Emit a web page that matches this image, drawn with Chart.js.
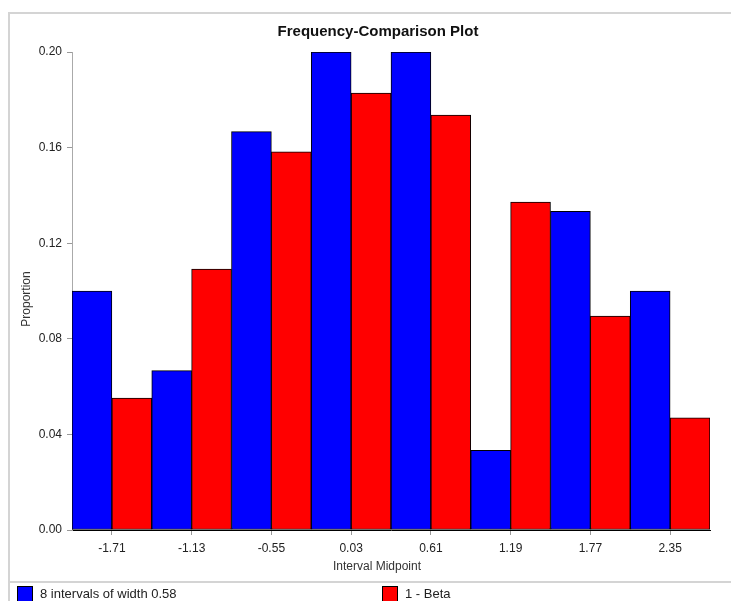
<!DOCTYPE html>
<html>
<head>
<meta charset="utf-8">
<title>Frequency-Comparison Plot</title>
<script src="https://cdn.jsdelivr.net/npm/chart.js@4"></script>
<style>
  html, body { margin: 0; padding: 0; background: #fff; }
  canvas { display: block; }
</style>
</head>
<body>
<canvas id="freqChart" width="731" height="601"></canvas>
<script>
const midpoints = ['-1.71', '-1.13', '-0.55', '0.03', '0.61', '1.19', '1.77', '2.35'];
const sampleProportions = [0.1, 0.0667, 0.1667, 0.2, 0.2, 0.0333, 0.1333, 0.1];
const betaProportions = [0.0552, 0.1092, 0.1582, 0.1828, 0.1736, 0.1372, 0.0895, 0.0469];
const yTicks = [0, 0.04, 0.08, 0.12, 0.16, 0.2];

const chartTitle = 'Frequency-Comparison Plot';
const xTitle = 'Interval Midpoint';
const yTitle = 'Proportion';

const FONT = '"Liberation Sans", Arial, sans-serif';

// Frame, titles and the legend strip along the bottom
const decorations = {
  id: 'decorations',
  beforeDraw(chart) {
    const ctx = chart.ctx;
    ctx.save();
    ctx.fillStyle = '#fff';
    ctx.fillRect(0, 0, chart.width, chart.height);
    ctx.strokeStyle = '#d4d4d4';
    ctx.lineWidth = 2;
    ctx.beginPath();
    ctx.moveTo(chart.width, 13);
    ctx.lineTo(9, 13);
    ctx.lineTo(9, chart.height);
    ctx.moveTo(9, 582);
    ctx.lineTo(chart.width, 582);
    ctx.stroke();
    ctx.restore();
  },
  afterDraw(chart) {
    const ctx = chart.ctx;
    ctx.save();
    ctx.fillStyle = '#111';
    ctx.textAlign = 'center';
    ctx.textBaseline = 'middle';
    ctx.font = 'bold 15px ' + FONT;
    ctx.fillText(chartTitle, 378, 32);

    ctx.font = '12px ' + FONT;
    ctx.fillStyle = '#333';
    ctx.fillText(xTitle, 377, 567);
    ctx.save();
    ctx.translate(27, 299);
    ctx.rotate(-Math.PI / 2);
    ctx.fillText(yTitle, 0, 0);
    ctx.restore();

    // legend
    const legendX = [17, 382];
    ctx.textAlign = 'left';
    ctx.font = '13px ' + FONT;
    chart.data.datasets.forEach((ds, i) => {
      const x = legendX[i];
      ctx.fillStyle = ds.backgroundColor;
      ctx.fillRect(x, 586, 15, 16);
      ctx.strokeStyle = '#000';
      ctx.lineWidth = 1;
      ctx.strokeRect(x + 0.5, 586.5, 15, 16);
      ctx.fillStyle = '#222';
      ctx.fillText(ds.label, x + 23, 594);
    });
    ctx.restore();
  }
};

const ctx = document.getElementById('freqChart').getContext('2d');
new Chart(ctx, {
  type: 'bar',
  data: {
    labels: midpoints,
    datasets: [
      {
        label: '8 intervals of width 0.58',
        data: sampleProportions,
        backgroundColor: '#0000ff',
        borderColor: '#000',
        borderWidth: 1,
        borderSkipped: false
      },
      {
        label: '1 - Beta',
        data: betaProportions,
        backgroundColor: '#ff0000',
        borderColor: '#000',
        borderWidth: 1,
        borderSkipped: false
      }
    ]
  },
  options: {
    responsive: false,
    animation: false,
    layout: { padding: { top: 52, right: 21, left: 0, bottom: 0 } },
    datasets: { bar: { barPercentage: 1, categoryPercentage: 1 } },
    plugins: {
      legend: { display: false },
      title: { display: false },
      tooltip: { enabled: false }
    },
    scales: {
      x: {
        afterFit(scale) { scale.height = 71; },
        grid: { offset: false, drawOnChartArea: false, tickLength: 5, color: '#999' },
        border: { color: '#000' },
        ticks: {
          padding: 6,
          maxRotation: 0,
          color: '#222',
          font: { family: FONT, size: 12 }
        }
      },
      y: {
        min: 0,
        max: 0.2,
        afterFit(scale) { scale.width = 72; },
        afterBuildTicks(scale) { scale.ticks = yTicks.map(v => ({ value: v })); },
        grid: { drawOnChartArea: false, tickLength: 5, color: '#999' },
        border: { color: '#aaa' },
        ticks: {
          padding: 5,
          color: '#222',
          font: { family: FONT, size: 12 },
          callback: v => v.toFixed(2)
        }
      }
    }
  },
  plugins: [decorations]
});
</script>
</body>
</html>
